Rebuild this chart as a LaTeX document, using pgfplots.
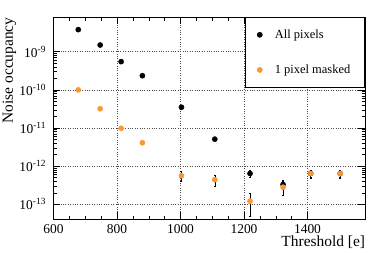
\documentclass[border=0pt]{standalone}
\usepackage{pgfplots}
\pgfplotsset{compat=1.18}
\usepackage{fontspec}
\setmainfont{Liberation Serif}
\definecolor{myorange}{RGB}{250,152,52}
\begin{document}
\begin{tikzpicture}
\begin{axis}[
  at={(0,0)}, anchor=south west,
  scale only axis,
  width=311.8bp, height=201.7bp,
  xmin=600, xmax=1582,
  ymode=log, ymin=4.1e-14, ymax=8e-9,
  xtick={600,800,1000,1200,1400},
  minor x tick num=3,
  ytick={1e-13,1e-12,1e-11,1e-10,1e-9},
  yticklabels={10\textsuperscript{-13},10\textsuperscript{-12},10\textsuperscript{-11},10\textsuperscript{-10},10\textsuperscript{-9}},
  xticklabels={600,800,1000,1200,1400},
  tick align=inside,
  major tick length=7bp, minor tick length=3.5bp,
  tick style={black, line width=0.5pt},
  axis line style={line width=0.9pt},
  xmajorgrids, ymajorgrids,
  major grid style={dotted, black!70, line width=0.6pt},
  ticklabel style={font=\fontsize{13.5}{13.5}\selectfont},
  xticklabel style={yshift=-2bp},
  yticklabel style={xshift=-4bp},
  xlabel={Threshold [e]},
  ylabel={Noise occupancy},
  label style={font=\fontsize{15.5}{15.5}\selectfont},
  xlabel style={at={(axis description cs:1,-0.134)}, anchor=base east, inner sep=0pt},
  ylabel style={at={(axis description cs:-0.13,1)}, anchor=base east, inner sep=0pt},
  legend style={at={(1,1)}, anchor=north east, draw=black, line width=0.9pt,
    font=\fontsize{12.5}{12.5}\selectfont, inner xsep=12bp, inner ysep=10bp,
    row sep=21bp, legend cell align=left, fill=white,
    /tikz/every odd column/.append style={column sep=10.5bp}},
  legend image post style={line width=0.5pt},
  error bars/error bar style={black, line width=0.6pt},
  error bars/error mark options={black, rotate=90, mark size=1bp, line width=0.6pt},
]
\addplot[only marks, mark=*, mark size=2.6bp, black,
  error bars/.cd, y dir=both, y explicit]
  table[x=x, y=y, y error plus=ep, y error minus=em] {
x y ep em
678 3.8e-9 0 0
747 1.5e-9 0 0
813 5.5e-10 0 0
880 2.35e-10 0 0
1003 3.5e-11 0 0
1108 5.1e-12 0 0
1219 6.4e-13 1.3e-13 1.3e-13
1323 3.3e-13 0.9e-13 0.9e-13
1410 6.4e-13 1.3e-13 1.3e-13
1503 6.4e-13 1.3e-13 1.3e-13
};
\addlegendentry{\makebox[76bp][l]{All pixels}}
\addplot[only marks, mark=*, mark size=2.6bp, myorange, mark options={draw=myorange, fill=myorange},
  error bars/.cd, y dir=both, y explicit]
  table[x=x, y=y, y error plus=ep, y error minus=em] {
x y ep em
678 1e-10 0 0
747 3.2e-11 0 0
813 9.8e-12 0 0
880 4.1e-12 0 0
1003 5.6e-13 1.6e-13 1.6e-13
1108 4.4e-13 1.5e-13 1.5e-13
1219 1.2e-13 0.7e-13 0.72e-13
1323 2.8e-13 1.3e-13 1.1e-13
1410 6.4e-13 1.2e-13 1.5e-13
1503 6.4e-13 1.2e-13 1.5e-13
};
\addlegendentry{\makebox[76bp][l]{1 pixel masked}}
\end{axis}
\pgfresetboundingbox
\path[use as bounding box] (-53.5bp,-34bp) rectangle (320.5bp,219bp);
\end{tikzpicture}
\end{document}
